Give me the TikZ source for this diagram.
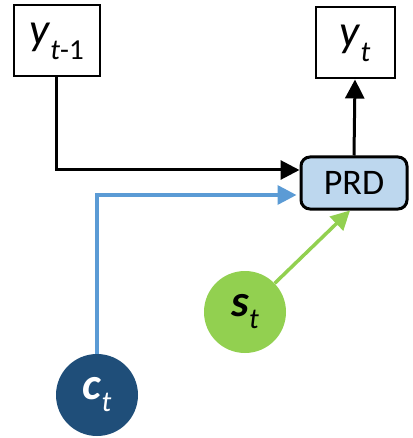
\documentclass[tikz,border=0pt]{standalone}
\usepackage{fontspec}
\setmainfont{Carlito}
\usetikzlibrary{arrows.meta}
\definecolor{prdfill}{HTML}{BDD7EE}
\definecolor{ctxline}{HTML}{5B9BD5}
\definecolor{stgreen}{HTML}{92D050}
\definecolor{ctdark}{HTML}{1F4E79}
\newcommand\lowsub[2][-15pt]{\raisebox{#1}{\fontsize{29}{29}\selectfont #2}}
\begin{document}
\begin{tikzpicture}[x=1pt,y=-1pt,
    outbox/.style={draw,line width=2pt,minimum width=86pt,minimum height=71pt,inner sep=0pt,font=\fontsize{45}{45}\selectfont},
    prdbox/.style={draw,line width=3pt,rounded corners=9pt,fill=prdfill,minimum width=106pt,minimum height=52pt,font=\fontsize{36}{36}\selectfont},
    ball/.style={circle,minimum size=82pt,inner sep=0pt,font=\fontsize{45}{45}\selectfont},
    tip/.style={-{Triangle[length=19pt,width=19pt]}}]
	%% frame
	\useasboundingbox (0,0) rectangle (412,438);

	% boxes
	\node[outbox] (yprev) at (56.5,41) {\textit{y}\lowsub{\textit{t}-1}};
	\node[outbox,minimum width=79pt] (ycur) at (355,43) {\textit{y}\lowsub{\textit{t}}};
	\node[prdbox] (prd) at (354,183) {PRD};

	% inputs
	\node[ball,fill=stgreen] (st) at (245,312) {\textbf{\textit{s}}\lowsub[-12pt]{\textit{t}}};
	\node[ball,fill=ctdark,text=white] (ct) at (97,395) {\textbf{\textit{c}}\lowsub[-12pt]{\textit{t}}};

	% connectors
	\draw[tip,line width=3pt] (yprev.south) |- ([yshift=13pt]prd.west);
	\draw[tip,line width=3.5pt,ctxline] (ct.north) |- ([xshift=-3pt,yshift=-12pt]prd.west);
	\draw[tip,line width=3.5pt,stgreen] (st) -- ([xshift=-4pt]prd.south);
	\draw[tip,line width=3pt] (prd.north) -- (ycur.south);
\end{tikzpicture}
\end{document}
